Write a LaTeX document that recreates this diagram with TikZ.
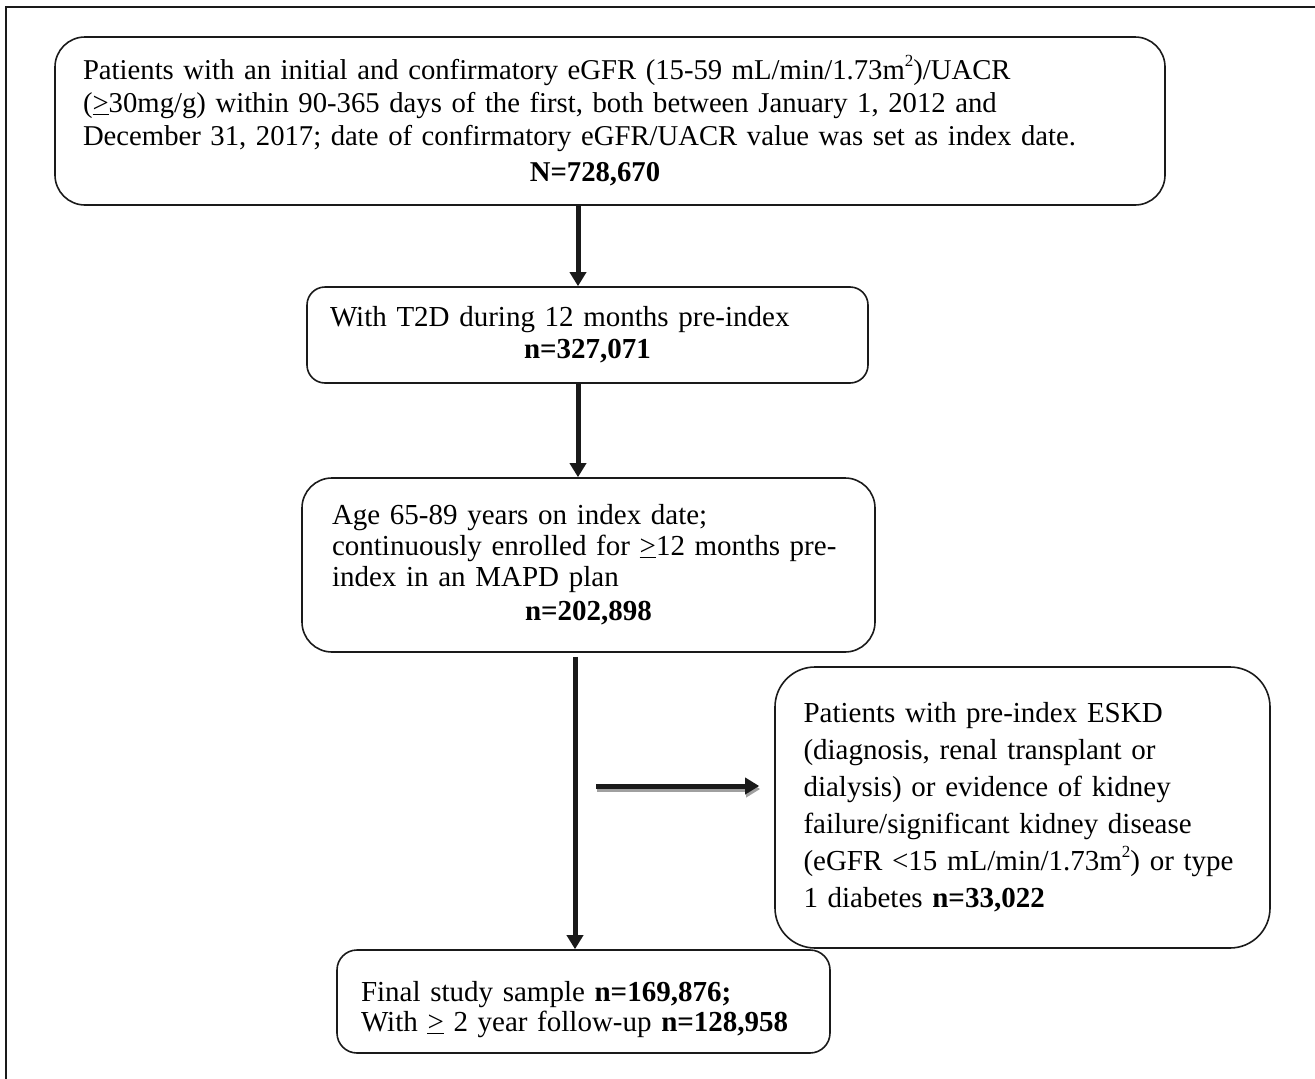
\documentclass[tikz,border=0pt]{standalone}
\usepackage{fontspec}
\setmainfont{Liberation Serif}
\usetikzlibrary{arrows.meta}
\definecolor{ink}{HTML}{1A1A1A}
\definecolor{shade}{HTML}{A0A0A0}
\newcommand{\sqtwo}{\raisebox{0.45em}{\fontsize{17}{17}\selectfont 2}}
\begin{document}
\begin{tikzpicture}[x=1pt,y=-1pt,
  box/.style={draw=ink, line width=1.6pt, align=left, inner ysep=0pt},
  arr/.style={draw=ink, line width=5pt, -{Triangle[length=14pt,width=16pt]}},
  shadowarr/.style={draw=shade, line width=5pt, -{Triangle[length=14pt,width=16pt]}},
  frame/.style={draw=ink, line width=2pt}
]
\useasboundingbox (0,0) rectangle (1315,1079);
\draw[frame] (6,1079) -- (6,6.5) -- (1315,6.5);

\node[box, rounded corners=30pt, minimum width=1110pt, minimum height=168pt,
      text width=1054pt, inner xsep=28pt, font=\fontsize{28.7}{33}\selectfont] (b1) at (610,121)
{Patients with an initial and confirmatory eGFR (15-59 mL/min/1.73m\sqtwo)/UACR\\
(\underline{>}30mg/g) within 90-365 days of the first, both between January 1, 2012 and\\
December 31, 2017; date of confirmatory eGFR/UACR value was set as index date.\\[3pt]
\makebox[\linewidth]{\textbf{N=728,670}\hspace{30pt}}};

\node[box, rounded corners=18pt, minimum width=561pt, minimum height=96pt,
      text width=515pt, inner xsep=23pt, font=\fontsize{29}{32}\selectfont] (b2) at (587.5,335)
{With T2D during 12 months pre-index\\
\makebox[\linewidth]{\textbf{n=327,071}}};

\node[box, rounded corners=30pt, minimum width=573pt, minimum height=174pt,
      text width=513pt, inner xsep=30pt, font=\fontsize{29}{31}\selectfont] (b3) at (588.5,565)
{Age 65-89 years on index date;\\
continuously enrolled for \underline{>}12 months pre-\\
index in an MAPD plan\\[3pt]
\makebox[\linewidth]{\textbf{n=202,898}}};

\node[box, rounded corners=40pt, minimum width=495pt, minimum height=281pt,
      text width=450pt, inner xsep=22.5pt, font=\fontsize{29}{37}\selectfont] (rb) at (1022.5,807.5)
{\hspace*{6pt}Patients with pre-index ESKD\\
\hspace*{6pt}(diagnosis, renal transplant or\\
\hspace*{6pt}dialysis) or evidence of kidney\\
\hspace*{6pt}failure/significant kidney disease\\
\hspace*{6pt}(eGFR <15 mL/min/1.73m\sqtwo) or type\\
\hspace*{6pt}1 diabetes \textbf{n=33,022}};

\node[box, rounded corners=20pt, minimum width=493pt, minimum height=103pt,
      text width=445pt, inner xsep=24pt, font=\fontsize{29}{30}\selectfont] (b5) at (583.5,1001.5)
{\rule{0pt}{36pt}Final study sample \textbf{n=169,876;}\\
With \underline{>} 2 year follow-up \textbf{n=128,958}};

\coordinate (x1) at (578,0);
\coordinate (x3) at (575,0);
\coordinate (h0) at (596,786);

\draw[arr] (b1.south -| x1) -- (b2.north -| x1);
\draw[arr] (b2.south -| x1) -- (b3.north -| x1);
\draw[arr, shorten <=4pt] (b3.south -| x3) -- (b5.north -| x3);
\draw[shadowarr, shorten >=15pt, transform canvas={xshift=1pt,yshift=-3pt}] (h0) -- (rb.west |- h0);
\draw[arr, shorten >=15pt] (h0) -- (rb.west |- h0);
\end{tikzpicture}
\end{document}
